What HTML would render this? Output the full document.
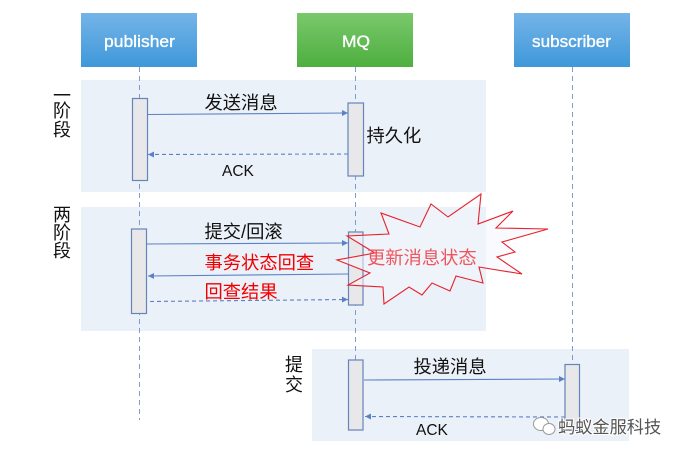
<!DOCTYPE html>
<html><head><meta charset="utf-8"><style>
html,body{margin:0;padding:0;background:#fff}
svg{display:block}
text{font-family:"Liberation Sans","Noto Sans CJK SC",sans-serif;fill:#111}
</style></head><body>
<svg width="682" height="457" viewBox="0 0 682 457" xmlns="http://www.w3.org/2000/svg">
<defs>
<linearGradient id="b" x1="0" y1="0" x2="0" y2="1"><stop offset="0" stop-color="#74b4e8"/><stop offset="1" stop-color="#3f98d9"/></linearGradient>
<linearGradient id="g" x1="0" y1="0" x2="0" y2="1"><stop offset="0" stop-color="#7ac86c"/><stop offset="1" stop-color="#4eaf3f"/></linearGradient>
<marker id="a" markerWidth="8" markerHeight="8" refX="6" refY="3" orient="auto" markerUnits="userSpaceOnUse"><path d="M0 0L6 3L0 6Z" fill="#5b80c4"/></marker>
</defs>
<rect x="81" y="80" width="405" height="112" fill="#ebf1f8"/>
<rect x="81" y="207" width="405" height="124" fill="#ebf1f8"/>
<rect x="312" y="349" width="317" height="92" fill="#ebf1f8"/>
<g stroke="#7f9ccb" stroke-width="1" stroke-dasharray="5 4" fill="none">
<path d="M139.500 67V420"/><path d="M355.500 67V360"/><path d="M572.500 67V364"/>
</g>
<rect x="81" y="13" width="116" height="54" fill="url(#b)"/>
<rect x="297" y="13" width="116" height="54" fill="url(#g)"/>
<rect x="514" y="13" width="116" height="54" fill="url(#b)"/>
<g font-size="17" style="font-weight:400">
<text x="104" y="47" textLength="71" lengthAdjust="spacingAndGlyphs" style="fill:#fff;stroke:#fff;stroke-width:.35px">publisher</text>
<text x="342" y="47" textLength="28" lengthAdjust="spacingAndGlyphs" style="fill:#fff;stroke:#fff;stroke-width:.35px">MQ</text>
<text x="532" y="47" textLength="79" lengthAdjust="spacingAndGlyphs" style="fill:#fff;stroke:#fff;stroke-width:.35px">subscriber</text>
</g>
<g fill="#e8e8ea" stroke="#6584ba" stroke-width="1.200">
<rect x="132.500" y="98.500" width="15" height="82"/>
<rect x="348" y="103" width="15.500" height="73"/>
<rect x="131.500" y="229" width="15" height="84.500"/>
<rect x="348.500" y="232" width="14.500" height="73"/>
<rect x="348.500" y="360" width="14.500" height="70"/>
<rect x="565" y="364.500" width="14.500" height="66"/>
</g>
<g stroke="#5b80c4" stroke-width="1.100" fill="none">
<path d="M148 114.500L348 113" marker-end="url(#a)"/>
<path d="M348 154L148 154.500" stroke-dasharray="4 3" marker-end="url(#a)"/>
<path d="M147 244L348 243" marker-end="url(#a)"/>
<path d="M348 274L148 276" marker-end="url(#a)"/>
<path d="M150 301.500L348 299.500" stroke-dasharray="4 3" marker-end="url(#a)"/>
<path d="M364 380L565 379" marker-end="url(#a)"/>
<path d="M565 417L365 416.500" stroke-dasharray="4 3" marker-end="url(#a)"/>
</g>
<polygon points="347,236 389,234 381,213 420,227 431,204 448,217 481,194 478,224 513,211 496,228 548,229 502,242 515,252 497,257 522,274 479,267 483,283 456,276 450,291 432,283 422,295 409,287 384,304 383,287 348,285 370,273 337,260 375,253" fill="#f3f6fb" fill-opacity="0.550" stroke="#e8202c" stroke-width="1.100"/>
<g font-size="18.300">
<text x="204.500" y="109">发送消息</text>
<text x="366.500" y="142">持久化</text>
<text x="204.500" y="238">提交/回滚</text>
<text x="413.500" y="373">投递消息</text>
</g>
<g font-size="15.500">
<text x="222" y="176">ACK</text>
<text x="416" y="435">ACK</text>
</g>
<g font-size="18.300" style="font-weight:400">
<text x="204.500" y="269" style="fill:#f00000">事务状态回查</text>
<text x="204.500" y="298" style="fill:#f00000">回查结果</text>
<text x="367" y="264" style="fill:#f0545c">更新消息状态</text>
</g>
<g font-size="18" text-anchor="middle">
<text x="62" y="102">一</text><text x="62" y="117">阶</text><text x="62" y="136">段</text>
<text x="62" y="221">两</text><text x="62" y="239">阶</text><text x="62" y="257">段</text>
<text x="294" y="371">提</text><text x="294" y="391">交</text>
</g>
<g fill="#fff" stroke="#999" stroke-width="1">
<ellipse cx="541" cy="424" rx="7.500" ry="6.500"/>
<ellipse cx="549" cy="429" rx="6" ry="5.500"/>
</g>
<text x="558" y="433" font-size="17.200" style="fill:#555;stroke:#fff;stroke-width:2px;paint-order:stroke">蚂蚁金服科技</text>
</svg>
</body></html>
